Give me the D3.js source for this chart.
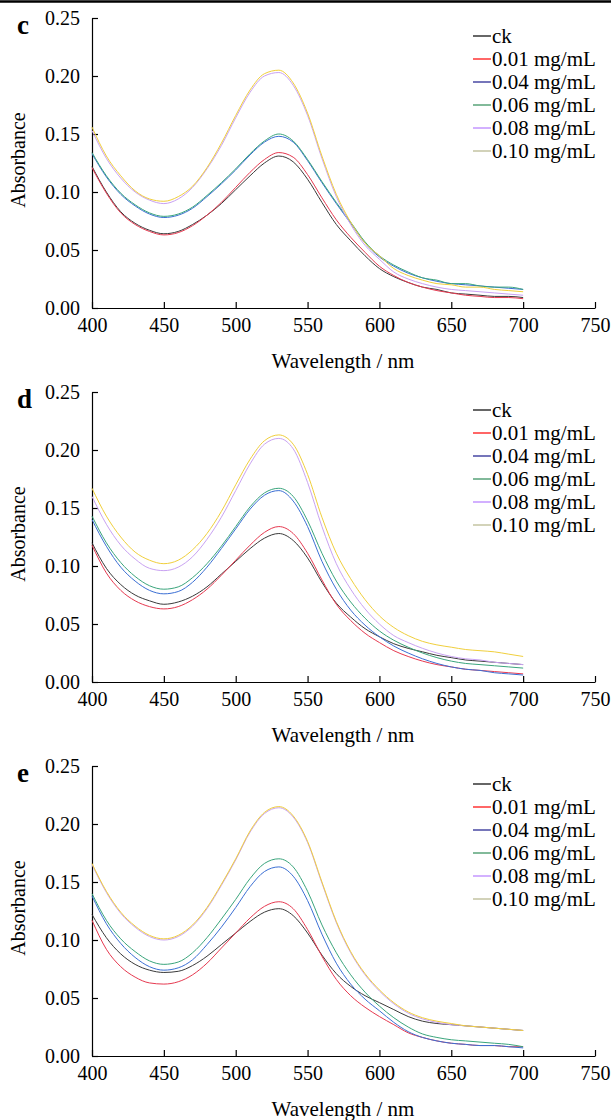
<!DOCTYPE html>
<html>
<head>
<meta charset="utf-8">
<script src="https://cdn.jsdelivr.net/npm/d3@7"></script>
<style>
    body { margin: 0; background: #fff; }
    svg { display: block; font-family: "Liberation Serif", "Times New Roman", serif; }
    .axis path, .axis line { stroke: #000; stroke-width: 1.2; }
    .axis text { font-size: 20px; fill: #000; }
</style>
</head>
<body>
<svg width="611" height="1120"></svg>
<script>
// wavelength grid (nm), one value every 10 nm
const wavelengths = [400, 410, 420, 430, 440, 450, 460, 470, 480, 490, 500, 510, 520, 530, 540, 550,
    560, 570, 580, 590, 600, 610, 620, 630, 640, 650, 660, 670, 680, 690, 700]

const seriesNames = ["ck", "0.01 mg/mL", "0.04 mg/mL", "0.06 mg/mL", "0.08 mg/mL", "0.10 mg/mL"]
const lineColors = ["#3a3a3a", "#e63950", "#3b6fd4", "#3aa57c", "#c9a2f2", "#f0cf3c"]
const legendColors = ["#000000", "#ff0000", "#1a1a8c", "#2e8b57", "#b57cff", "#b5b58a"]
const panelLabels = ["c", "d", "e"]

const xTicks = [400, 450, 500, 550, 600, 650, 700, 750]
const yTicks = [0, 0.05, 0.10, 0.15, 0.20, 0.25]

// panel c
const c_ck  = [0.122, 0.100, 0.083, 0.073, 0.067, 0.064, 0.066, 0.072, 0.080, 0.090, 0.102, 0.114, 0.125, 0.131, 0.126, 0.111,
    0.091, 0.072, 0.058, 0.045, 0.034, 0.027, 0.022, 0.018, 0.016, 0.013, 0.012, 0.011, 0.010, 0.010, 0.009]
const c_001 = [0.121, 0.099, 0.082, 0.072, 0.066, 0.063, 0.065, 0.071, 0.080, 0.091, 0.104, 0.117, 0.128, 0.134, 0.130, 0.115,
    0.095, 0.076, 0.061, 0.048, 0.036, 0.028, 0.022, 0.018, 0.015, 0.013, 0.011, 0.010, 0.009, 0.009, 0.008]
const c_004 = [0.133, 0.113, 0.098, 0.088, 0.081, 0.078, 0.080, 0.086, 0.096, 0.107, 0.119, 0.132, 0.143, 0.148, 0.143, 0.127,
    0.108, 0.090, 0.073, 0.056, 0.044, 0.036, 0.030, 0.026, 0.023, 0.021, 0.020, 0.019, 0.018, 0.017, 0.016]
const c_006 = [0.134, 0.114, 0.099, 0.089, 0.082, 0.079, 0.081, 0.087, 0.097, 0.108, 0.120, 0.133, 0.144, 0.150, 0.144, 0.128,
    0.109, 0.091, 0.074, 0.057, 0.045, 0.037, 0.031, 0.026, 0.024, 0.021, 0.021, 0.019, 0.018, 0.018, 0.016]
const c_008 = [0.153, 0.129, 0.112, 0.100, 0.093, 0.090, 0.094, 0.104, 0.120, 0.140, 0.164, 0.186, 0.200, 0.203, 0.192, 0.166,
    0.129, 0.096, 0.072, 0.054, 0.042, 0.031, 0.025, 0.021, 0.018, 0.016, 0.015, 0.014, 0.013, 0.012, 0.011]
const c_010 = [0.156, 0.131, 0.114, 0.101, 0.094, 0.092, 0.096, 0.105, 0.121, 0.142, 0.166, 0.188, 0.202, 0.205, 0.194, 0.168,
    0.131, 0.098, 0.074, 0.056, 0.045, 0.034, 0.028, 0.024, 0.021, 0.020, 0.018, 0.018, 0.016, 0.015, 0.014]

// panel d
const d_ck  = [0.120, 0.098, 0.084, 0.075, 0.070, 0.067, 0.069, 0.074, 0.082, 0.093, 0.104, 0.115, 0.124, 0.128, 0.122, 0.107,
    0.086, 0.068, 0.056, 0.046, 0.039, 0.033, 0.029, 0.026, 0.023, 0.021, 0.019, 0.018, 0.017, 0.016, 0.015]
const d_001 = [0.118, 0.094, 0.079, 0.070, 0.065, 0.063, 0.065, 0.071, 0.080, 0.092, 0.105, 0.118, 0.129, 0.134, 0.128, 0.111,
    0.088, 0.067, 0.053, 0.042, 0.034, 0.027, 0.022, 0.018, 0.015, 0.013, 0.011, 0.010, 0.009, 0.008, 0.007]
const d_004 = [0.140, 0.117, 0.099, 0.087, 0.079, 0.076, 0.078, 0.086, 0.099, 0.115, 0.132, 0.149, 0.161, 0.165, 0.156, 0.134,
    0.104, 0.080, 0.062, 0.049, 0.039, 0.031, 0.025, 0.020, 0.016, 0.013, 0.011, 0.010, 0.008, 0.007, 0.006]
const d_006 = [0.143, 0.120, 0.103, 0.091, 0.083, 0.080, 0.082, 0.090, 0.102, 0.117, 0.134, 0.151, 0.163, 0.167, 0.160, 0.139,
    0.111, 0.087, 0.069, 0.055, 0.044, 0.036, 0.030, 0.025, 0.021, 0.018, 0.016, 0.015, 0.014, 0.013, 0.012]
const d_008 = [0.160, 0.136, 0.118, 0.106, 0.098, 0.096, 0.099, 0.108, 0.123, 0.142, 0.165, 0.188, 0.205, 0.210, 0.201, 0.172,
    0.134, 0.102, 0.080, 0.063, 0.050, 0.040, 0.034, 0.029, 0.025, 0.022, 0.020, 0.019, 0.017, 0.016, 0.015]
const d_010 = [0.167, 0.143, 0.125, 0.112, 0.105, 0.102, 0.105, 0.114, 0.128, 0.147, 0.170, 0.192, 0.208, 0.213, 0.205, 0.179,
    0.142, 0.111, 0.089, 0.071, 0.057, 0.047, 0.040, 0.035, 0.032, 0.030, 0.028, 0.027, 0.026, 0.024, 0.022]

// panel e
const e_ck  = [0.122, 0.102, 0.088, 0.079, 0.074, 0.072, 0.073, 0.078, 0.086, 0.096, 0.106, 0.116, 0.124, 0.127, 0.121, 0.106,
    0.087, 0.071, 0.060, 0.052, 0.046, 0.040, 0.034, 0.030, 0.028, 0.027, 0.026, 0.025, 0.024, 0.023, 0.022]
const e_001 = [0.117, 0.092, 0.077, 0.068, 0.063, 0.062, 0.064, 0.070, 0.080, 0.093, 0.106, 0.119, 0.129, 0.133, 0.127, 0.109,
    0.086, 0.066, 0.052, 0.042, 0.034, 0.027, 0.020, 0.016, 0.013, 0.011, 0.010, 0.009, 0.009, 0.008, 0.008]
const e_004 = [0.138, 0.114, 0.097, 0.085, 0.077, 0.074, 0.076, 0.083, 0.096, 0.111, 0.128, 0.146, 0.159, 0.163, 0.155, 0.134,
    0.105, 0.080, 0.062, 0.049, 0.039, 0.029, 0.021, 0.016, 0.013, 0.011, 0.010, 0.009, 0.009, 0.008, 0.007]
const e_006 = [0.140, 0.117, 0.101, 0.090, 0.082, 0.079, 0.081, 0.089, 0.102, 0.118, 0.135, 0.153, 0.166, 0.170, 0.163, 0.142,
    0.113, 0.089, 0.070, 0.055, 0.043, 0.033, 0.025, 0.019, 0.016, 0.014, 0.013, 0.012, 0.011, 0.010, 0.008]
const e_008 = [0.165, 0.141, 0.123, 0.111, 0.103, 0.100, 0.103, 0.112, 0.127, 0.147, 0.169, 0.193, 0.209, 0.214, 0.206, 0.184,
    0.149, 0.115, 0.089, 0.070, 0.056, 0.045, 0.037, 0.032, 0.029, 0.027, 0.026, 0.025, 0.024, 0.023, 0.022]
const e_010 = [0.166, 0.142, 0.124, 0.112, 0.104, 0.101, 0.104, 0.113, 0.128, 0.148, 0.170, 0.194, 0.210, 0.215, 0.207, 0.185,
    0.150, 0.116, 0.090, 0.071, 0.057, 0.046, 0.038, 0.033, 0.030, 0.028, 0.026, 0.025, 0.024, 0.023, 0.022]

const panelSeries = [
    [c_ck, c_001, c_004, c_006, c_008, c_010],
    [d_ck, d_001, d_004, d_006, d_008, d_010],
    [e_ck, e_001, e_004, e_006, e_008, e_010]
]

const serif = "'Liberation Serif', 'Times New Roman', serif"
const svg = d3.select("svg")

// rule at the very top
svg.append("line")
    .attr("x1", 0).attr("x2", 611)
    .attr("y1", 1.5).attr("y2", 1.5)
    .attr("stroke", "#000")
    .attr("stroke-width", 2.5)

const left = 92
const right = 595
const panelTop = 18
const plotH = 290
const panelStep = 374

const xScale = d3.scaleLinear()
    .domain([400, 750])
    .range([left, right])

panelLabels.forEach((label, p) => {

    const top = panelTop + p * panelStep
    const g = svg.append("g")

    const yScale = d3.scaleLinear()
        .domain([0, 0.25])
        .range([top + plotH, top])

    //axes, ticks point inside the plot
    g.append("g")
        .attr("class", "axis")
        .attr("transform", `translate(0, ${top + plotH})`)
        .call(d3.axisBottom(xScale).tickValues(xTicks).tickSizeInner(-6).tickSizeOuter(0).tickPadding(10).tickFormat(d3.format("d")))
        .attr("font-family", serif)
        .attr("font-size", 20)

    g.append("g")
        .attr("class", "axis")
        .attr("transform", `translate(${left}, 0)`)
        .call(d3.axisLeft(yScale).tickValues(yTicks).tickSizeInner(-6).tickSizeOuter(0).tickPadding(12).tickFormat(d3.format(".2f")))
        .attr("font-family", serif)
        .attr("font-size", 20)

    //curves
    const line = d3.line()
        .x((d, i) => xScale(wavelengths[i]))
        .y(d => yScale(d))
        .curve(d3.curveMonotoneX)

    panelSeries[p].forEach((values, s) => {
        g.append("path")
            .attr("d", line(values))
            .attr("fill", "none")
            .attr("stroke", lineColors[s])
            .attr("stroke-width", 1)
    })

    //panel letter
    g.append("text")
        .attr("x", 17)
        .attr("y", top + 16)
        .attr("font-size", 27)
        .attr("font-weight", "bold")
        .text(label)

    //axis titles
    g.append("text")
        .attr("x", 343)
        .attr("y", top + plotH + 60)
        .attr("text-anchor", "middle")
        .attr("font-size", 21)
        .text("Wavelength / nm")

    g.append("text")
        .attr("transform", `translate(25, ${top + 142}) rotate(-90)`)
        .attr("text-anchor", "middle")
        .attr("font-size", 20)
        .text("Absorbance")

    //legend
    const legend = g.append("g")
        .attr("transform", `translate(473, ${top + 18})`)

    seriesNames.forEach((name, s) => {
        legend.append("line")
            .attr("x1", 0).attr("x2", 18)
            .attr("y1", s * 23).attr("y2", s * 23)
            .attr("stroke", legendColors[s])
            .attr("stroke-width", 1.2)

        legend.append("text")
            .attr("x", 19)
            .attr("y", s * 23 + 7)
            .attr("font-size", 21)
            .text(name)
    })
})
</script>
</body>
</html>
